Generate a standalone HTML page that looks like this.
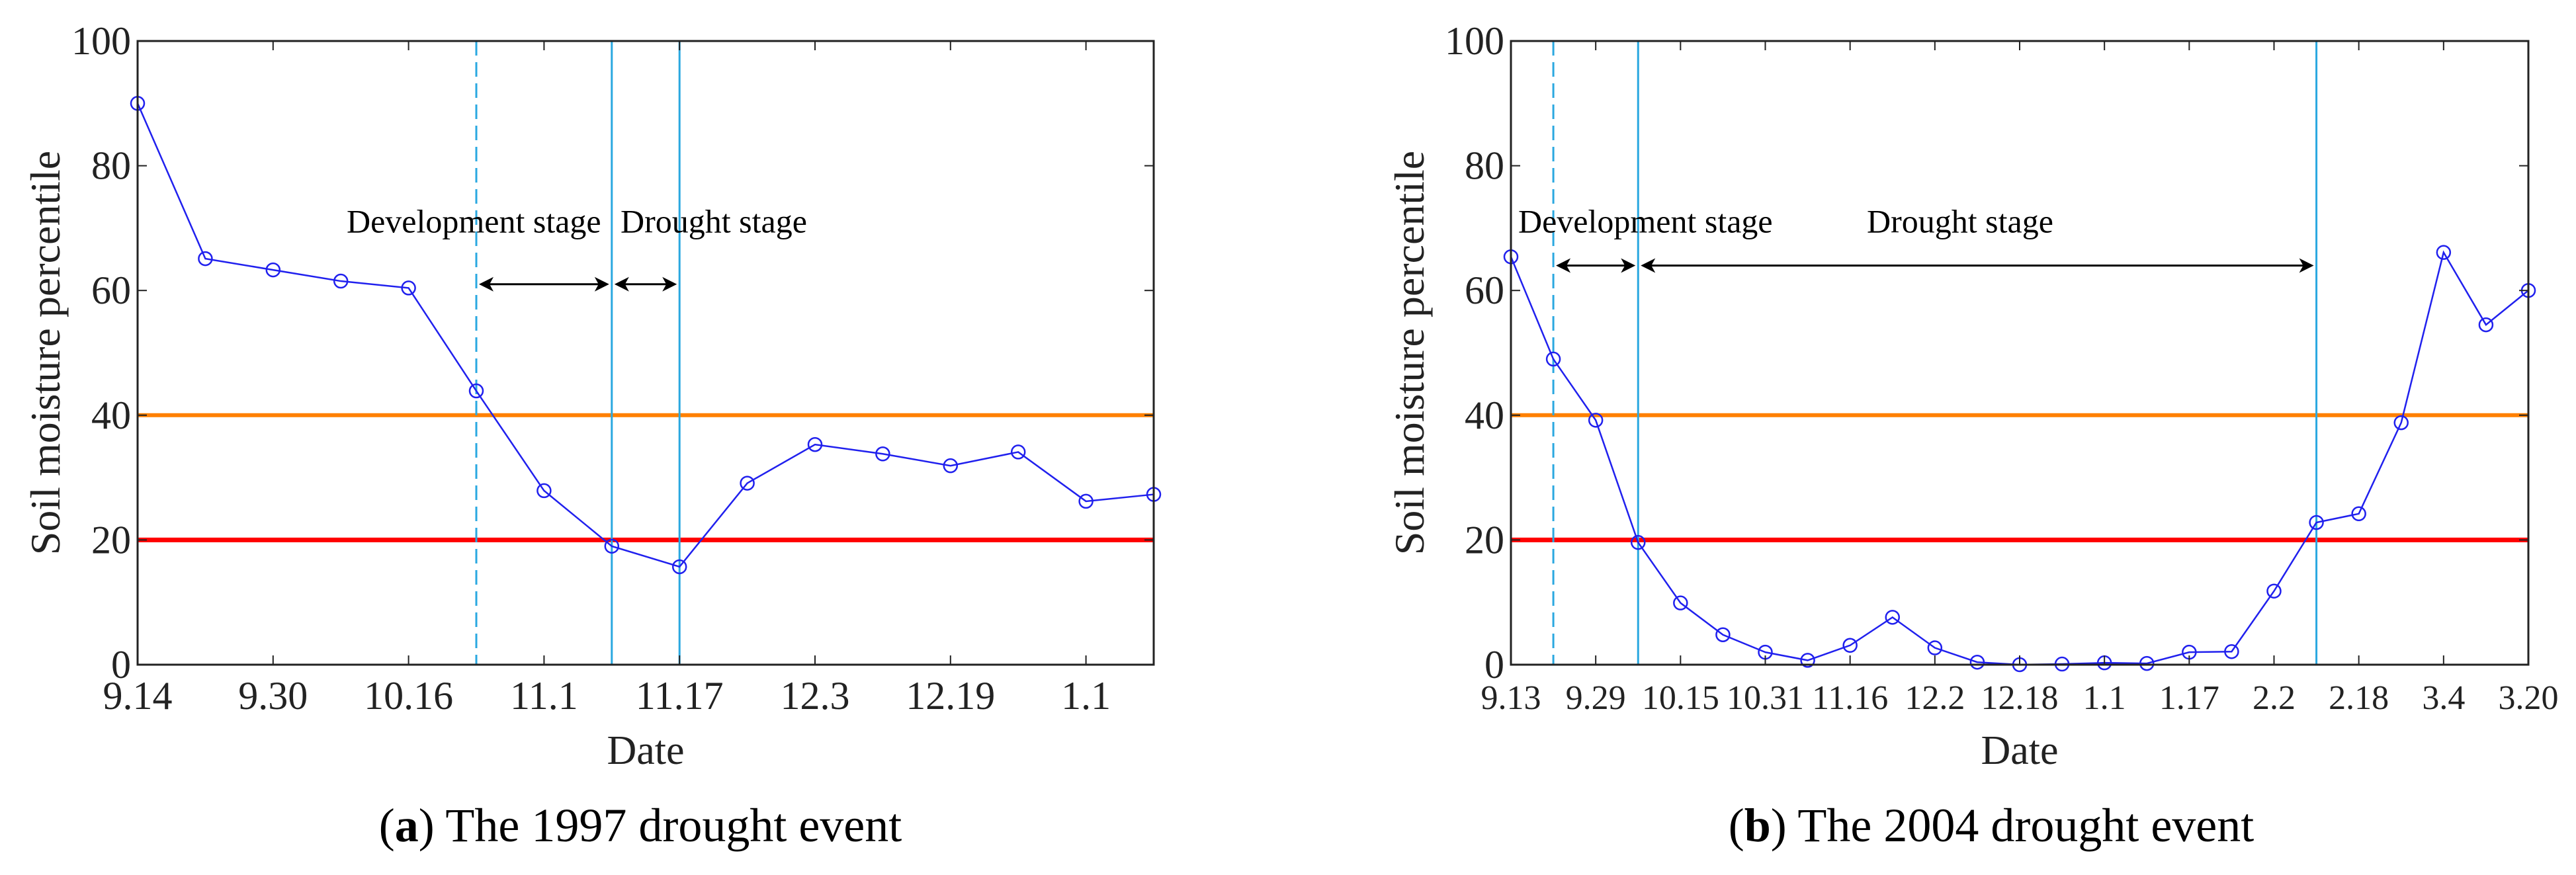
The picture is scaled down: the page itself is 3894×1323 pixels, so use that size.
<!DOCTYPE html>
<html><head><meta charset="utf-8"><style>
html,body{margin:0;padding:0;background:#fff;}
svg{display:block;font-family:"Liberation Serif",serif;}
</style></head><body>
<svg id="chart" width="3894" height="1323" viewBox="0 0 3894 1323" xmlns="http://www.w3.org/2000/svg"></svg>
<script>
const catsA = ["9.14","","9.30","","10.16","","11.1","","11.17","","12.3","","12.19","","1.1",""];
const valsA = [90,65.1,63.3,61.5,60.4,43.9,27.9,19.0,15.7,29.1,35.3,33.8,31.9,34.1,26.2,27.3];
const catsB = ["9.13","","9.29","","10.15","","10.31","","11.16","","12.2","","12.18","","1.1","","1.17","","2.2","","2.18","","3.4","","3.20"];
const valsB = [65.4,49.0,39.2,19.6,9.9,4.8,2.0,0.7,3.1,7.6,2.7,0.4,0,0.1,0.3,0.2,2.0,2.1,11.8,22.8,24.2,38.8,66.1,54.5,60.0];
const yTicks = [0,20,40,60,80,100];
const thresholds = [40,20];
const stageA = [5,7,8];
const stageB = [1,3,19];
const arrowYA = 61, arrowYB = 64;

const NS="http://www.w3.org/2000/svg";
const svg=document.getElementById('chart');
function mk(tag,attrs,parent){const e=document.createElementNS(NS,tag);for(const k in attrs)e.setAttribute(k,attrs[k]);(parent||svg).appendChild(e);return e;}

function panel(p){
  const L=p.left,R=p.right,T=62,B=1005;
  const n=p.vals.length;
  const x=i=>L+(R-L)*i/(n-1);
  const y=v=>B-(B-T)*v/100;
  const g=mk('g',{});
  
  
  const tc=["#ff8000","#ff0000"], tw=[6,7], tn=['moderate-drought-threshold','severe-drought-threshold'];
  thresholds.forEach((t,k)=>{const l=mk('line',{x1:L,x2:R,y1:y(t),y2:y(t),stroke:tc[k],'stroke-width':tw[k]},g);
    
    });
  p.stage.forEach((s,k)=>{const a={x1:x(s),x2:x(s),y1:T,y2:B,stroke:'#2aa8e0','stroke-width':3};if(k===0)a['stroke-dasharray']='22,10';
    const l=mk('line',a,g);
    
    });
  const ay=y(p.arrowY);
  [[p.stage[0],p.stage[1]],[p.stage[1],p.stage[2]]].forEach((pr,k)=>{
    const x1=x(pr[0])+4,x2=x(pr[1])-4;
    const ag=mk('g',{},g);
    
    
    mk('line',{x1:x1+8,x2:x2-8,y1:ay,y2:ay,stroke:'#000','stroke-width':3},ag);
    mk('path',{d:`M${x1},${ay} l22,-11 l-6,11 l6,11 z`,fill:'#000'},ag);
    mk('path',{d:`M${x2},${ay} l-22,-11 l6,11 l-6,11 z`,fill:'#000'},ag);
  });
  p.labels.forEach((lb,k)=>{const t=mk('text',{x:lb[0],y:y(71)+16,'font-size':50,'text-anchor':'start',fill:'#000'},g);t.textContent=lb[1];
    
    });
  const pts=p.vals.map((v,i)=>x(i)+','+y(v)).join(' ');
  const pl=mk('polyline',{points:pts,fill:'none',stroke:'#2020ee','stroke-width':2.5},g);
  
  
  p.vals.forEach((v,i)=>{const c=mk('circle',{cx:x(i),cy:y(v),r:10,fill:'none',stroke:'#2020ee','stroke-width':2.5},g);
    
    });
  const box=mk('rect',{x:L,y:T,width:R-L,height:B-T,fill:'none',stroke:'#222','stroke-width':3},g);
  
  
  yTicks.forEach(v=>{
    mk('line',{x1:L,x2:L+14,y1:y(v),y2:y(v),stroke:'#222','stroke-width':2},g);
    mk('line',{x1:R,x2:R-14,y1:y(v),y2:y(v),stroke:'#222','stroke-width':2},g);
    const t=mk('text',{x:L-10,y:y(v)+20,'font-size':60,'text-anchor':'end',fill:'#222'},g);t.textContent=v;
    
    
  });
  p.cats.forEach((c,i)=>{if(c==='')return;
    mk('line',{x1:x(i),x2:x(i),y1:B,y2:B-14,stroke:'#222','stroke-width':2},g);
    mk('line',{x1:x(i),x2:x(i),y1:T,y2:T+14,stroke:'#222','stroke-width':2},g);
    const t=mk('text',{x:x(i),y:1072,'font-size':p.tickFont,'text-anchor':'middle',fill:'#222'},g);t.textContent=c;
    
    
  });
  const xl=mk('text',{x:(L+R)/2,y:1155,'font-size':62,'text-anchor':'middle',fill:'#222'},g);xl.textContent='Date';
  
  
  const yl=mk('text',{x:0,y:0,'font-size':64,'text-anchor':'middle',fill:'#222',transform:`translate(${p.ylx},${(T+B)/2}) rotate(-90)`},g);yl.textContent='Soil moisture percentile';
  
  
  const cap=mk('text',{x:p.capX,y:1272,'font-size':72,'text-anchor':'middle',fill:'#000'},g);
  
  
  const b=mk('tspan',{'font-weight':'bold'},cap);
  cap.insertBefore(document.createTextNode('('),b);b.textContent=p.letter;
  cap.appendChild(document.createTextNode(') '+p.caption));
}
panel({name:'panel-a-1997',left:208,right:1744,vals:valsA,cats:catsA,stage:stageA,arrowY:arrowYA,
  labels:[[524,'Development stage'],[938,'Drought stage']],ylx:90,capX:968,letter:'a',caption:'The 1997 drought event',tickFont:60});
panel({name:'panel-b-2004',left:2284,right:3822,vals:valsB,cats:catsB,stage:stageB,arrowY:arrowYB,
  labels:[[2295,'Development stage'],[2822,'Drought stage']],ylx:2152,capX:3010,letter:'b',caption:'The 2004 drought event',tickFont:52});
</script>
</body></html>
